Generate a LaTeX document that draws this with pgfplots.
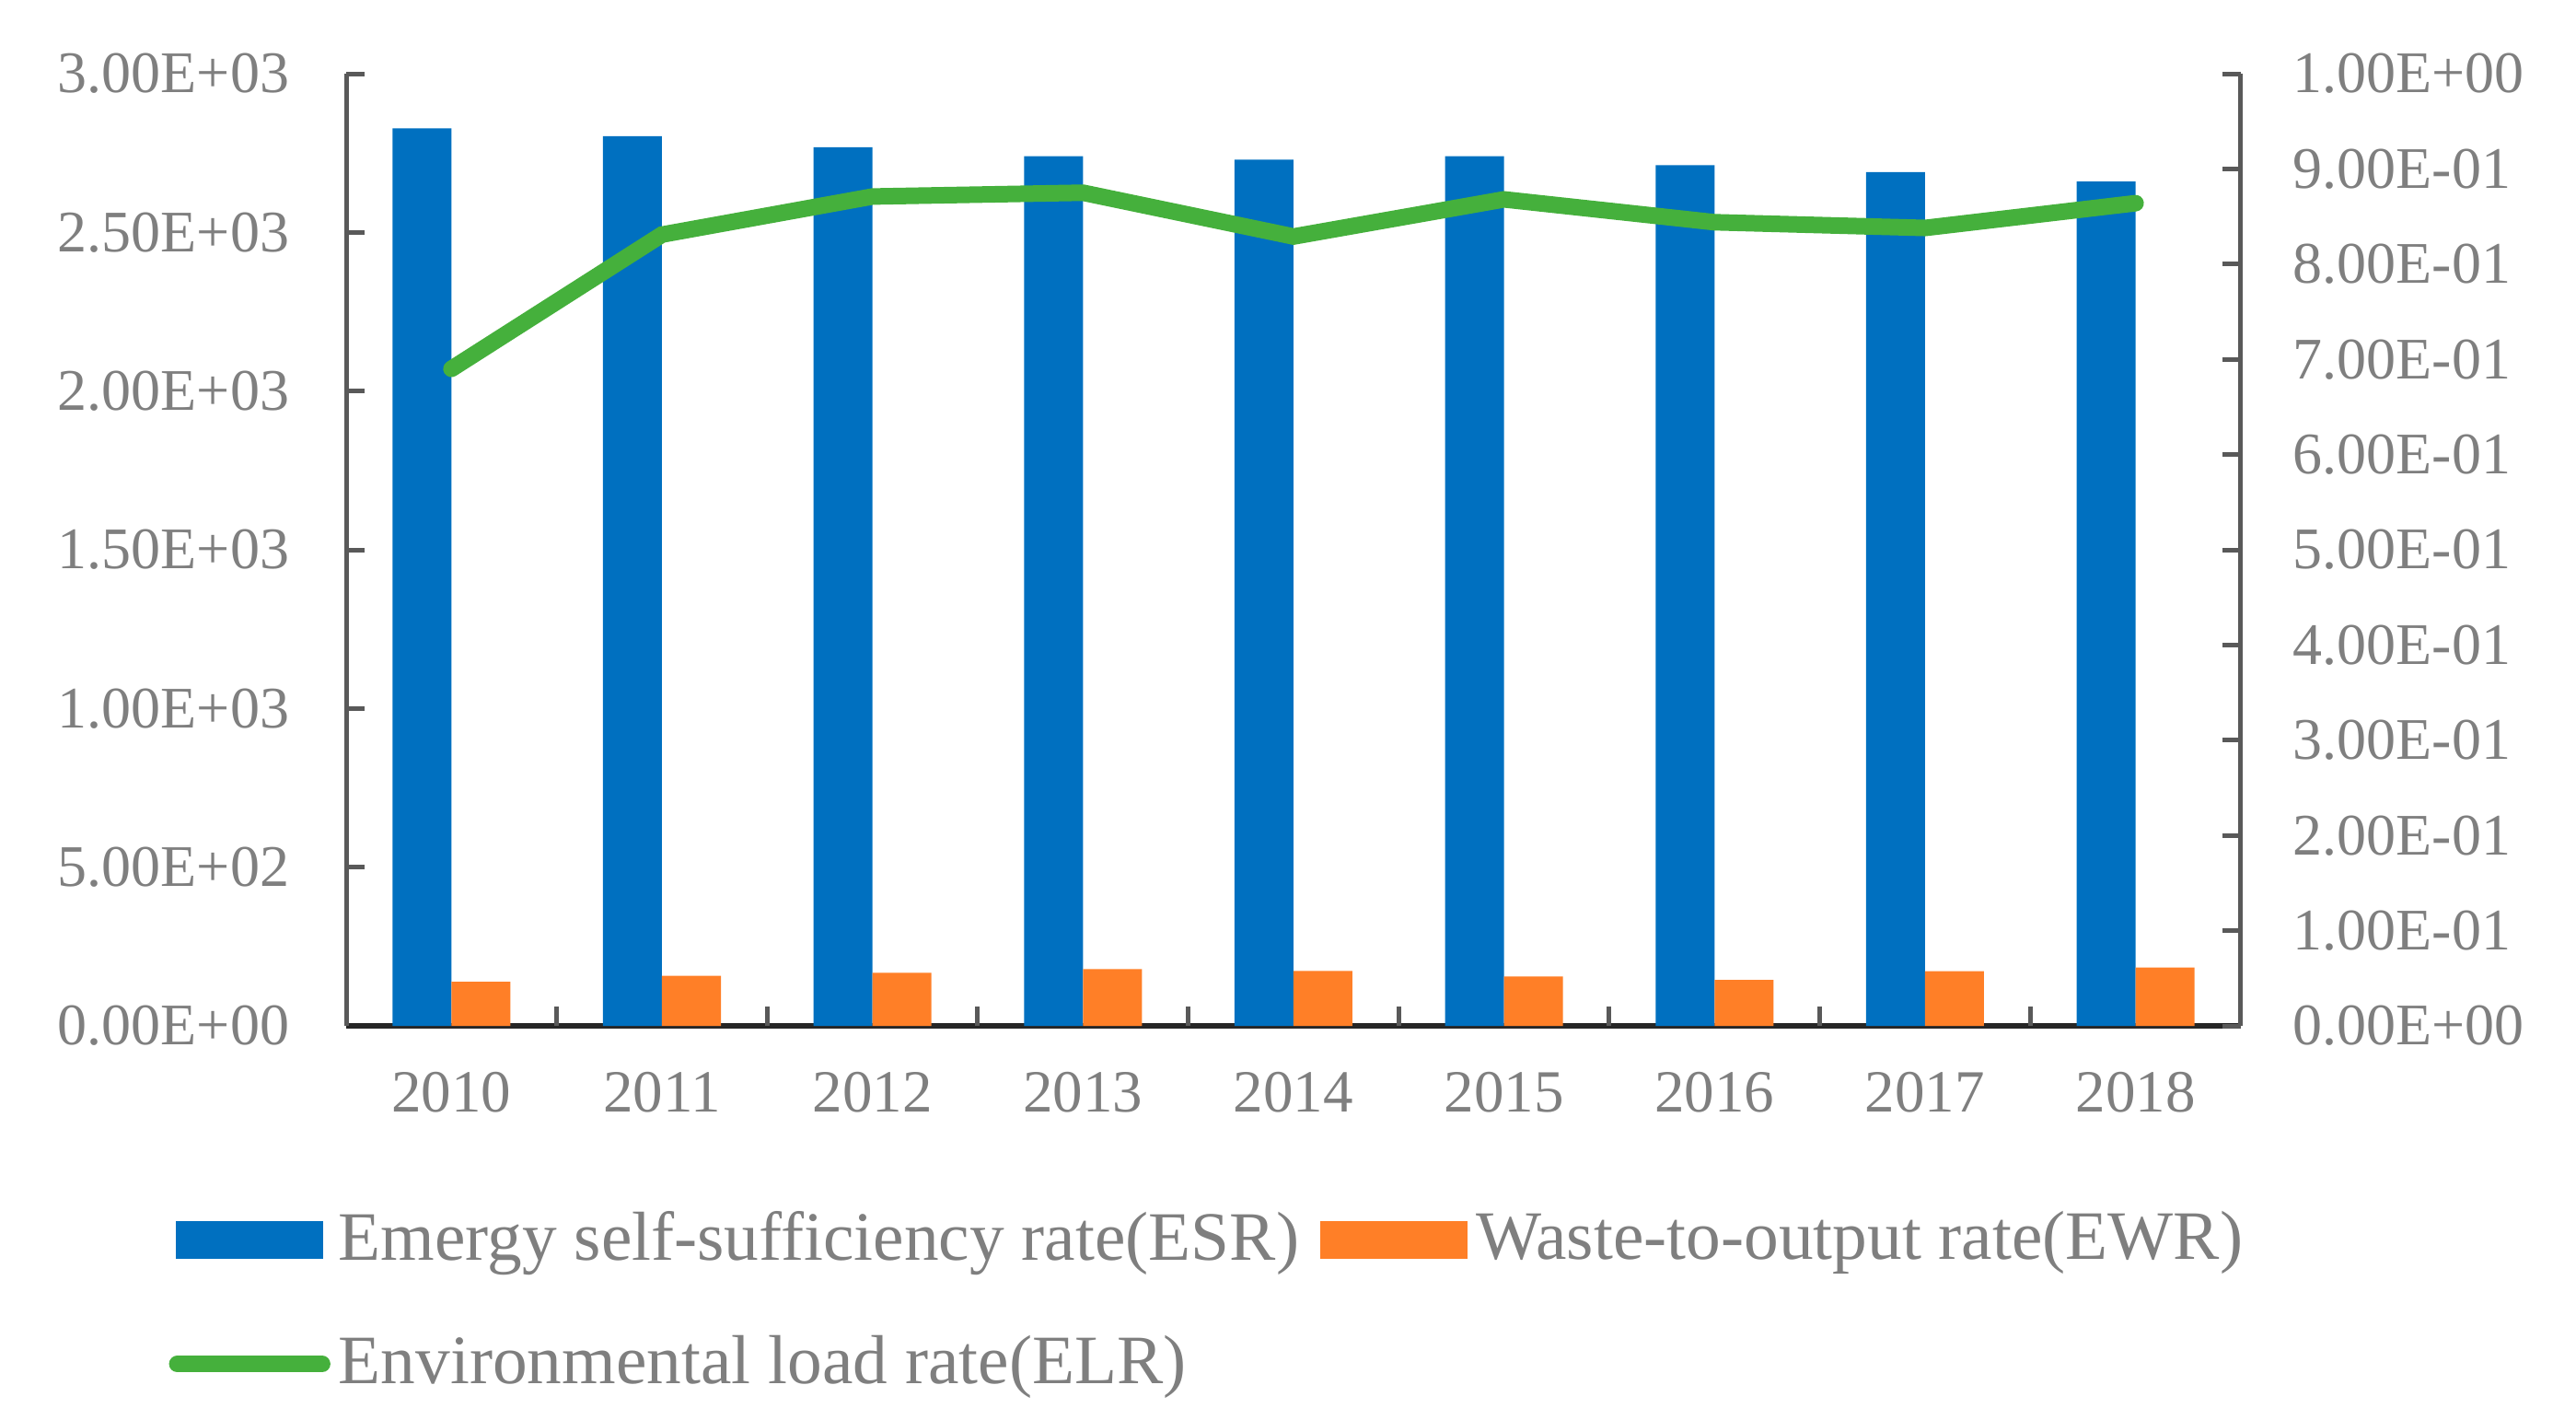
\documentclass[border=0pt]{standalone}
\usepackage{pgfplots}
\pgfplotsset{compat=1.18}
\usepackage{fontspec}
\setmainfont{Liberation Serif}
\definecolor{esrblue}{HTML}{0070C0}
\definecolor{ewrorange}{HTML}{FF7F27}
\definecolor{elrgreen}{HTML}{45B03C}
\definecolor{txtgray}{HTML}{7F7F7F}
\definecolor{axgray}{HTML}{595959}
\definecolor{axdark}{HTML}{262626}
\pgfplotsset{
  base/.style={
    scale only axis, width=308.7pt, height=155.1pt,
    at={(56.4pt,64.05pt)}, anchor=south west,
    xmin=-0.5, xmax=8.5,
    tick align=inside,
    major tick length=3pt,
    minor tick length=3.15pt,
    ticklabel style={text=txtgray},
    /pgf/number format/assume math mode=true,
    axis line style={-},
  }
}
\begin{document}
\begin{tikzpicture}
\useasboundingbox (0,0) rectangle (419.7pt,231.15pt);
\begin{axis}[base,
  ybar=0pt, bar width=9.6pt,
  axis x line*=bottom, axis y line*=left,
  ymin=0, ymax=3000,
  ytick={0,500,1000,1500,2000,2500,3000},
  yticklabels={0.00E+00,5.00E+02,1.00E+03,1.50E+03,2.00E+03,2.50E+03,3.00E+03},
  xtick={0,1,2,3,4,5,6,7,8},
  xticklabels={2010,2011,2012,2013,2014,2015,2016,2017,2018},
  extra x ticks={-0.5,0.5,1.5,2.5,3.5,4.5,5.5,6.5,7.5,8.5},
  extra x tick labels={},
  extra x tick style={major tick length=3.15pt, xtick align=inside, major x tick style={draw=axgray, line width=0.75pt}},
  major x tick style={draw=none},
  x axis line style={draw=axdark, line width=0.9pt},
  y axis line style={draw=axgray, line width=0.75pt},
  ytick style={draw=axgray, line width=0.75pt},
  yticklabel style={font=\fontsize{9.6}{11}\selectfont, inner sep=0pt, xshift=-9.1pt},
  xticklabel style={font=\fontsize{9.75}{11}\selectfont, inner sep=0pt, yshift=-4.4pt},
]
\addplot[fill=esrblue, draw=none] coordinates {
 (0,2828) (1,2803) (2,2768) (3,2740) (4,2729) (5,2740) (6,2712) (7,2690) (8,2660)};
\addplot[fill=ewrorange, draw=none] coordinates {
 (0,139) (1,158) (2,167) (3,179) (4,173) (5,156) (6,145) (7,172) (8,184)};
\end{axis}
\begin{axis}[base,
  axis x line=none, axis y line*=right,
  ymin=0, ymax=1,
  ytick={0,0.1,0.2,0.3,0.4,0.5,0.6,0.7,0.8,0.9,1},
  yticklabels={0.00E+00,1.00E-01,2.00E-01,3.00E-01,4.00E-01,5.00E-01,6.00E-01,7.00E-01,8.00E-01,9.00E-01,1.00E+00},
  y axis line style={draw=axgray, line width=0.75pt},
  ytick style={draw=axgray, line width=0.75pt},
  yticklabel style={font=\fontsize{9.6}{11}\selectfont, inner sep=0pt, xshift=8.3pt},
  legend columns=2,
  legend cell align=left,
  legend style={at={(-0.0935,-0.1944)}, anchor=north west, draw=none, fill=none,
    inner sep=0pt, outer sep=0pt, font=\fontsize{11.3}{13}\selectfont, text=txtgray,
    row sep=10.8pt, nodes={inner sep=0pt},
    /tikz/every odd column/.append style={column sep=1.35pt},
    /tikz/every even column/.append style={column sep=3.5pt},
    cells={anchor=west}},
]
\addlegendimage{legend image code/.code={\fill[esrblue] (0pt,-2.85pt) rectangle (23.6pt,2.85pt);}}
\addlegendentry{Emergy self-sufficiency rate(ESR)}
\addlegendimage{legend image code/.code={\fill[ewrorange] (0pt,-2.85pt) rectangle (23.6pt,2.85pt);}}
\addlegendentry{Waste-to-output rate(EWR)}
\addplot[elrgreen, line width=2.7pt, line cap=round, line join=miter, mark=none,
  legend image code/.code={\draw[elrgreen, line width=2.7pt, line cap=round] (0pt,0pt) -- (23.6pt,0pt);}]
  coordinates {(0,0.690) (1,0.831) (2,0.871) (3,0.875) (4,0.829) (5,0.868) (6,0.844) (7,0.838) (8,0.864)};
\addlegendentry{Environmental load rate(ELR)}
\end{axis}
\end{tikzpicture}
\end{document}
